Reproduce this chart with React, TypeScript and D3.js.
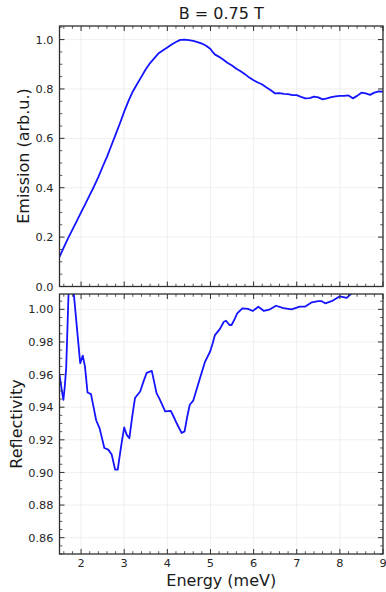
import * as d3 from "d3";

// emission spectrum (top panel)
const emissionE = [1.5, 1.6, 1.7, 1.8, 1.9, 2.0, 2.1, 2.2, 2.3, 2.4, 2.5, 2.6, 2.7, 2.8, 2.9, 3.0, 3.1, 3.2, 3.3, 3.4, 3.5, 3.6, 3.7, 3.8, 3.9, 4.0, 4.1, 4.2, 4.3, 4.4, 4.5, 4.6, 4.7, 4.8, 4.9, 5.0, 5.05, 5.1, 5.2, 5.3, 5.4, 5.5, 5.6, 5.7, 5.8, 5.9, 6.0, 6.1, 6.2, 6.3, 6.4, 6.5, 6.6, 6.7, 6.8, 6.9, 7.0, 7.1, 7.2, 7.3, 7.4, 7.5, 7.6, 7.7, 7.8, 7.9, 8.0, 8.1, 8.2, 8.3, 8.4, 8.5, 8.6, 8.7, 8.8, 8.9, 9.0];
const emissionV = [0.12, 0.158, 0.196, 0.23, 0.265, 0.3, 0.335, 0.37, 0.405, 0.443, 0.485, 0.525, 0.57, 0.615, 0.66, 0.708, 0.752, 0.79, 0.82, 0.85, 0.88, 0.905, 0.925, 0.945, 0.957, 0.968, 0.98, 0.99, 0.999, 1.0, 0.998, 0.995, 0.99, 0.984, 0.975, 0.962, 0.95, 0.94, 0.93, 0.918, 0.905, 0.895, 0.882, 0.872, 0.86, 0.846, 0.835, 0.826, 0.818, 0.806, 0.795, 0.782, 0.783, 0.78, 0.779, 0.775, 0.775, 0.768, 0.762, 0.763, 0.769, 0.766, 0.758, 0.762, 0.767, 0.77, 0.772, 0.772, 0.774, 0.762, 0.772, 0.785, 0.782, 0.776, 0.785, 0.79, 0.789];

// reflectivity spectrum (bottom panel)
const reflE = [1.5, 1.55, 1.59, 1.62, 1.655, 1.71, 1.76, 1.83, 1.92, 1.98, 2.04, 2.09, 2.15, 2.23, 2.29, 2.35, 2.43, 2.54, 2.63, 2.71, 2.79, 2.85, 2.9, 2.94, 3.0, 3.06, 3.12, 3.19, 3.25, 3.37, 3.45, 3.52, 3.64, 3.75, 3.83, 3.95, 4.08, 4.15, 4.22, 4.33, 4.4, 4.46, 4.52, 4.6, 4.68, 4.76, 4.87, 4.99, 5.05, 5.1, 5.22, 5.31, 5.36, 5.44, 5.49, 5.56, 5.62, 5.74, 5.87, 5.98, 6.11, 6.24, 6.38, 6.52, 6.69, 6.88, 7.07, 7.19, 7.35, 7.5, 7.58, 7.66, 7.81, 8.0, 8.16, 8.28, 8.4, 8.6, 9.0];
const reflV = [0.96, 0.951, 0.9445, 0.952, 0.964, 1.01, 1.03, 1.01, 0.984, 0.967, 0.9716, 0.965, 0.949, 0.948, 0.94, 0.932, 0.927, 0.915, 0.914, 0.911, 0.9017, 0.9017, 0.911, 0.918, 0.9276, 0.923, 0.921, 0.935, 0.9456, 0.9496, 0.956, 0.961, 0.9623, 0.9486, 0.9445, 0.9374, 0.9378, 0.934, 0.93, 0.9242, 0.9252, 0.934, 0.9415, 0.944, 0.951, 0.958, 0.9676, 0.974, 0.979, 0.984, 0.988, 0.9924, 0.993, 0.9904, 0.9904, 0.994, 0.9975, 1.0006, 1.0003, 0.999, 1.0016, 0.999, 1.0, 1.0022, 1.0008, 1.0, 1.0016, 1.0016, 1.0043, 1.005, 1.005, 1.0037, 1.005, 1.008, 1.007, 1.01, 1.014, 1.018, 1.02];

const xTicks = [2, 3, 4, 5, 6, 7, 8, 9];
const emTicks = [0.0, 0.2, 0.4, 0.6, 0.8, 1.0];
const reTicks = [0.86, 0.88, 0.9, 0.92, 0.94, 0.96, 0.98, 1.0];

const W = 386;
const H = 592;
const L = 59.5;
const R = 383;
const FONT = "DejaVu Sans, sans-serif";
const FRAME = "#2e2e2e";
const GRID = "#ebebeb";
const LINE = "#1414ff";

type PanelProps = {
  id: string;
  top: number;
  bottom: number;
  yDomain: [number, number];
  yTicks: number[];
  yMinorStep: number;
  yFmt: (v: number) => string;
  xs: number[];
  ys: number[];
  showXLabels: boolean;
};

const x = d3.scaleLinear().domain([1.5, 9]).range([L, R]);
const xMinor = d3.range(1.6, 9.0001, 0.2).filter((v) => Math.abs(v - Math.round(v)) > 0.01);

function Panel(p: PanelProps) {
  const y = d3.scaleLinear().domain(p.yDomain).range([p.bottom, p.top]);
  const yMinor = d3
    .range(Math.ceil(p.yDomain[0] / p.yMinorStep) * p.yMinorStep, p.yDomain[1], p.yMinorStep)
    .filter((v) => !p.yTicks.some((t) => Math.abs(t - v) < p.yMinorStep / 10));
  const line = d3
    .line<number>()
    .x((_, i) => x(p.xs[i]))
    .y((d) => y(d));
  const maj = 5;
  const min = 2.8;
  return (
    <g>
      <clipPath id={p.id}>
        <rect x={L} y={p.top} width={R - L} height={p.bottom - p.top} />
      </clipPath>
      {xTicks.map((t) => (
        <line key={"gx" + t} x1={x(t)} x2={x(t)} y1={p.top} y2={p.bottom} stroke={GRID} strokeWidth={0.8} />
      ))}
      {p.yTicks.map((t) => (
        <line key={"gy" + t} x1={L} x2={R} y1={y(t)} y2={y(t)} stroke={GRID} strokeWidth={0.8} />
      ))}
      <path d={line(p.ys) || ""} fill="none" stroke={LINE} strokeWidth={1.8} clipPath={`url(#${p.id})`} strokeLinejoin="round" />
      {xTicks.map((t) => (
        <g key={"tx" + t} stroke={FRAME} strokeWidth={1}>
          <line x1={x(t)} x2={x(t)} y1={p.bottom} y2={p.bottom - maj} />
          <line x1={x(t)} x2={x(t)} y1={p.top} y2={p.top + maj} />
        </g>
      ))}
      {xMinor.map((t) => (
        <g key={"mx" + t} stroke={FRAME} strokeWidth={0.8}>
          <line x1={x(t)} x2={x(t)} y1={p.bottom} y2={p.bottom - min} />
          <line x1={x(t)} x2={x(t)} y1={p.top} y2={p.top + min} />
        </g>
      ))}
      {p.yTicks.map((t) => (
        <g key={"ty" + t} stroke={FRAME} strokeWidth={1}>
          <line x1={L} x2={L + maj} y1={y(t)} y2={y(t)} />
          <line x1={R} x2={R - maj} y1={y(t)} y2={y(t)} />
        </g>
      ))}
      {yMinor.map((t) => (
        <g key={"my" + t} stroke={FRAME} strokeWidth={0.8}>
          <line x1={L} x2={L + min} y1={y(t)} y2={y(t)} />
          <line x1={R} x2={R - min} y1={y(t)} y2={y(t)} />
        </g>
      ))}
      <rect x={L} y={p.top} width={R - L} height={p.bottom - p.top} fill="none" stroke={FRAME} strokeWidth={1.3} />
      {p.yTicks.map((t) => (
        <text key={"ly" + t} x={L - 6} y={y(t)} dy="0.36em" textAnchor="end" fontSize={11.3} fill="#262626" fontFamily={FONT}>
          {p.yFmt(t)}
        </text>
      ))}
      {p.showXLabels &&
        xTicks.map((t) => (
          <text key={"lx" + t} x={x(t)} y={p.bottom + 13} textAnchor="middle" fontSize={11.3} fill="#262626" fontFamily={FONT}>
            {t}
          </text>
        ))}
    </g>
  );
}

export default function App() {
  return (
    <svg width={W} height={H} style={{ position: "absolute", left: 0, top: 0, background: "#fff" }}>
      <text x={(L + R) / 2} y={18.5} textAnchor="middle" fontSize={16} fill="#1a1a1a" fontFamily={FONT}>
        B = 0.75 T
      </text>
      <Panel
        id="clipTop"
        top={26}
        bottom={286.5}
        yDomain={[0, 1.055]}
        yTicks={emTicks}
        yMinorStep={0.05}
        yFmt={d3.format(".1f")}
        xs={emissionE}
        ys={emissionV}
        showXLabels={false}
      />
      <Panel
        id="clipBot"
        top={294}
        bottom={554}
        yDomain={[0.85, 1.0094]}
        yTicks={reTicks}
        yMinorStep={0.005}
        yFmt={d3.format(".2f")}
        xs={reflE}
        ys={reflV}
        showXLabels={true}
      />
      <text transform={`translate(28.5,156) rotate(-90)`} textAnchor="middle" fontSize={16} fill="#1a1a1a" fontFamily={FONT}>
        Emission (arb.u.)
      </text>
      <text transform={`translate(22,424) rotate(-90)`} textAnchor="middle" fontSize={16} fill="#1a1a1a" fontFamily={FONT}>
        Reflectivity
      </text>
      <text x={(L + R) / 2} y={586} textAnchor="middle" fontSize={16} fill="#1a1a1a" fontFamily={FONT}>
        Energy (meV)
      </text>
    </svg>
  );
}
